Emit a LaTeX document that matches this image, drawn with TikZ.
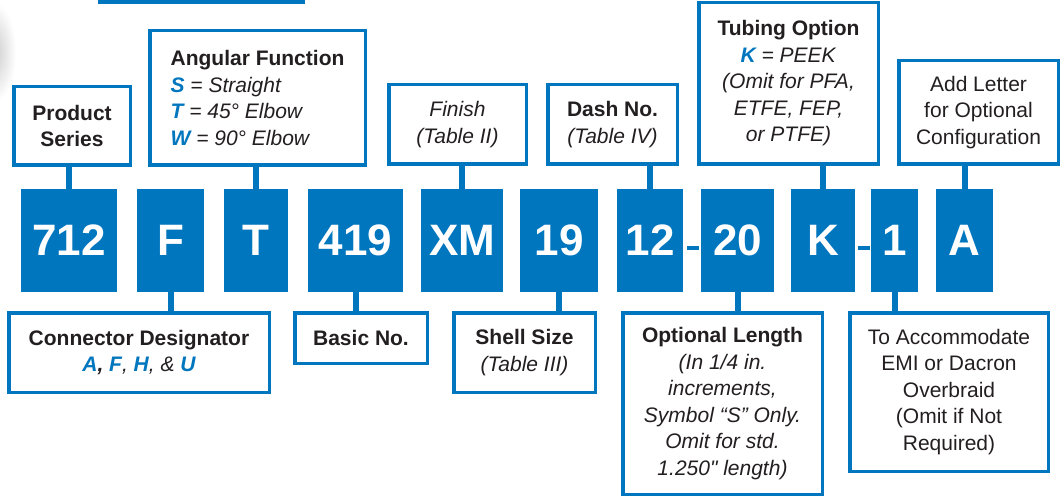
\documentclass[tikz,border=0pt]{standalone}
\usepackage{fontspec}
\setmainfont{Liberation Sans}[Ligatures=TeXOff]
\definecolor{codeblue}{RGB}{0,118,190}
\definecolor{inkgray}{RGB}{35,31,32}
\newcommand{\bluelet}[1]{{\color{codeblue}\bfseries\itshape #1}}
\begin{document}
\begin{tikzpicture}[x=1pt,y=-1pt,
  codebox/.style={fill=codeblue,text=white,inner sep=0pt,outer sep=0pt,minimum height=103pt,font=\fontsize{44}{50}\selectfont\bfseries},
  labelbox/.style={draw=codeblue,line width=3.5pt,fill=white,inner sep=0pt,outer sep=0pt,text=inkgray,align=center,font=\fontsize{21}{26.5}\selectfont},
  stub/.style={codeblue,line width=6pt},
  hyphen/.style={fill=codeblue,inner sep=0pt,minimum width=12pt,minimum height=4pt}]
\useasboundingbox (0,0) rectangle (1064,497);
% faint shadow at the left edge
\shade[inner color=gray!40,outer color=white] (-6,52) ellipse [x radius=22, y radius=50];

% the part number
\node[codebox,minimum width=96pt] (c712) at (69,240.5) {712};
\node[codebox,minimum width=67pt] (cF) at (170.5,240.5) {F};
\node[codebox,minimum width=64pt] (cT) at (256,240.5) {T};
\node[codebox,minimum width=95pt] (c419) at (355.5,240.5) {419};
\node[codebox,minimum width=82pt] (cXM) at (462,240.5) {XM};
\node[codebox,minimum width=78pt] (c19) at (559,240.5) {19};
\node[codebox,minimum width=66pt] (c12) at (650,240.5) {12};
\node[hyphen] (h1) at (693,247.5) {};
\node[codebox,minimum width=73pt] (c20) at (737.5,240.5) {20};
\node[codebox,minimum width=64pt] (cK) at (823,240.5) {K};
\node[hyphen] (h2) at (864,247.5) {};
\node[codebox,minimum width=47pt] (c1) at (894.5,240.5) {1};
\node[codebox,minimum width=57pt] (cA) at (964.5,240.5) {A};

% labels above
\node[labelbox,minimum width=203.5pt,minimum height=64pt] (topbox) at (201.5,-30) {};
\node[labelbox,minimum width=116.5pt,minimum height=78.5pt] (series) at (72,126) {\textbf{Product}\\\textbf{Series}};
\node[labelbox,align=left,minimum width=215.5pt,minimum height=134.5pt] (angular) at (257.5,98) {\textbf{Angular Function}\\
  \bluelet{S} \textit{= Straight}\\
  \bluelet{T} \textit{= 45° Elbow}\\
  \bluelet{W} \textit{= 90° Elbow}};
\node[labelbox,minimum width=137.5pt,minimum height=79.5pt] (finish) at (457.5,124.5) {\textit{Finish}\\\textit{(Table II)}};
\node[labelbox,minimum width=129.5pt,minimum height=79.5pt] (dashno) at (612.5,124.5) {\textbf{Dash No.}\\\textit{(Table IV)}};
\node[labelbox,minimum width=179.5pt,minimum height=161.5pt] (tubing) at (788.5,83.5) {\textbf{Tubing Option}\\
  \bluelet{K} \textit{= PEEK}\\
  \textit{(Omit for PFA,}\\
  \textit{ETFE, FEP,}\\
  \textit{or PTFE)}};
\node[labelbox,minimum width=159.5pt,minimum height=103.5pt] (addletter) at (978.5,112.5) {Add Letter\\for Optional\\Configuration};

% labels below
\node[labelbox,minimum width=260.5pt,minimum height=79.5pt] (designator) at (139,352.5) {\textbf{Connector Designator}\\
  \bluelet{A}\textbf{\textit{,}} \bluelet{F}\textit{,} \bluelet{H}\textit{, \&} \bluelet{U}};
\node[labelbox,minimum width=132.5pt,minimum height=50.5pt] (basic) at (361,338) {\textbf{Basic No.}};
\node[labelbox,minimum width=141.5pt,minimum height=79.5pt] (shell) at (524.5,352.5) {\textbf{Shell Size}\\\textit{(Table III)}};
\node[labelbox,minimum width=199.5pt,minimum height=181.5pt] (optlength) at (722.5,403.5) {\textbf{Optional Length}\\
  \textit{(In 1/4 in.}\\
  \textit{increments,}\\
  \textit{Symbol “S” Only.}\\
  \textit{Omit for std.}\\
  \textit{1.250" length)}};
\node[labelbox,minimum width=198.5pt,minimum height=158.5pt] (accommodate) at (949,392) {To Accommodate\\EMI or Dacron\\Overbraid\\(Omit if Not\\Required)};

% leaders
\draw[stub] (c712.north) -- (c712.north |- series.south);
\draw[stub] (cT.north) -- (cT.north |- angular.south);
\draw[stub] (cXM.north) -- (cXM.north |- finish.south);
\draw[stub] (c12.north) -- (c12.north |- dashno.south);
\draw[stub] (cK.north) -- (cK.north |- tubing.south);
\draw[stub] (cA.north) -- (cA.north |- addletter.south);
\draw[stub] (cF.south) -- (cF.south |- designator.north);
\draw[stub] (c419.south) -- (c419.south |- basic.north);
\draw[stub] (c19.south) -- (c19.south |- shell.north);
\draw[stub] (c20.south) -- (c20.south |- optlength.north);
\draw[stub] (c1.south) -- (c1.south |- accommodate.north);
\end{tikzpicture}
\end{document}
